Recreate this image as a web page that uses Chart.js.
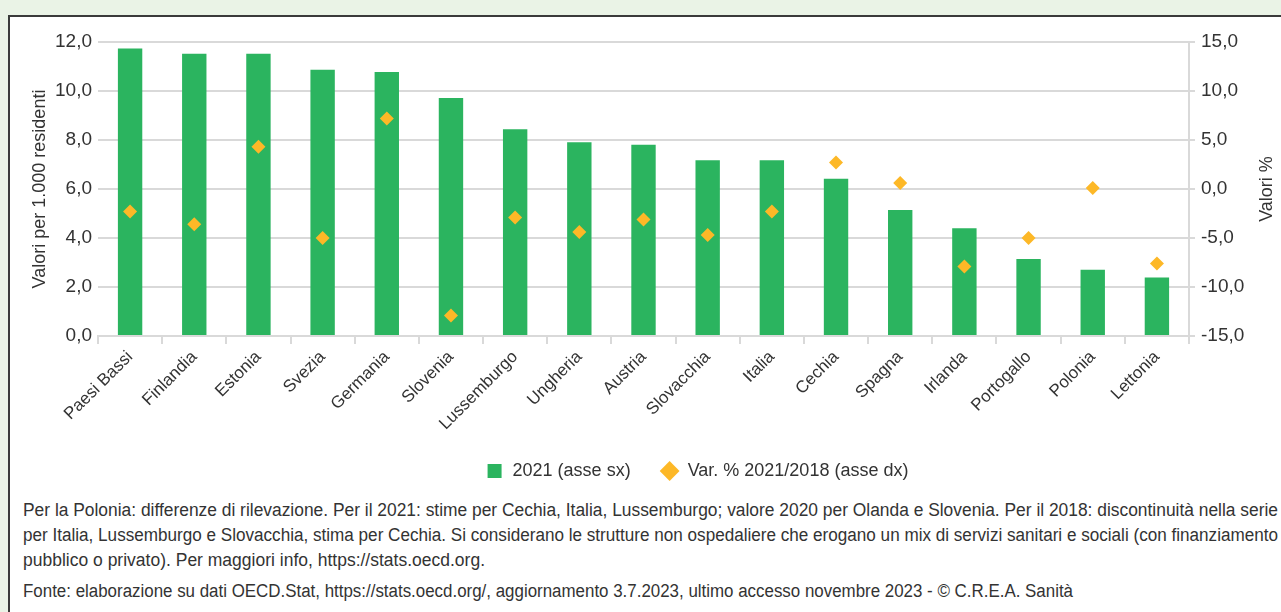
<!DOCTYPE html>
<html lang="it">
<head>
  <meta charset="UTF-8">
  <title>Strutture non ospedaliere</title>
  <script src="https://cdn.jsdelivr.net/npm/chart.js"></script>
  <style>
    * {
      box-sizing: border-box;
      margin: 0;
      padding: 0;
    }

    body {
      background: #eaf3e6;
      width: 1281px;
      height: 612px;
      overflow: hidden;
      font-family: 'Liberation Sans', Arial, sans-serif;
    }

    .box {
      position: absolute;
      left: 8px;
      top: 15px;
      width: 1290px;
      height: 620px;
      background: #fff;
      border: 2px solid #3a3a3a;
    }

    .chart-wrap {
      position: absolute;
      left: 9px;
      top: 17px;
      width: 1272px;
      height: 473px;
    }

    .notes {
      position: absolute;
      left: 23px;
      top: 498px;
      width: 1256px;
      color: #333;
      font-size: 18px;
      line-height: 25px;
    }

    .notes .ln {
      display: inline-block;
      white-space: nowrap;
      transform-origin: 0 50%;
    }

    .notes .src {
      margin-top: 6px;
    }
  </style>
</head>
<body>
  <div class="box"></div>
  <div class="chart-wrap">
    <canvas id="chart"></canvas>
  </div>
  <div class="notes">
    <div><span class="ln">Per la Polonia: differenze di rilevazione. Per il 2021: stime per Cechia, Italia, Lussemburgo; valore 2020 per Olanda e Slovenia. Per il 2018: discontinuità nella serie</span></div>
    <div><span class="ln">per Italia, Lussemburgo e Slovacchia, stima per Cechia. Si considerano le strutture non ospedaliere che erogano un mix di servizi sanitari e sociali (con finanziamento</span></div>
    <div><span class="ln">pubblico o privato). Per maggiori info, https://stats.oecd.org.</span></div>
    <div class="src"><span class="ln">Fonte: elaborazione su dati OECD.Stat, https://stats.oecd.org/, aggiornamento 3.7.2023, ultimo accesso novembre 2023 - © C.R.E.A. Sanità</span></div>
  </div>

  <script>
    const countries = ['Paesi Bassi', 'Finlandia', 'Estonia', 'Svezia', 'Germania', 'Slovenia',
      'Lussemburgo', 'Ungheria', 'Austria', 'Slovacchia', 'Italia', 'Cechia', 'Spagna',
      'Irlanda', 'Portogallo', 'Polonia', 'Lettonia'];
    const values2021 = [11.73, 11.52, 11.52, 10.87, 10.78, 9.71, 8.44, 7.91, 7.81,
      7.17, 7.17, 6.42, 5.14, 4.40, 3.14, 2.70, 2.39];
    const varPct = [-2.3, -3.6, 4.3, -5.0, 7.2, -12.9, -2.9, -4.4, -3.1,
      -4.7, -2.3, 2.7, 0.6, -7.9, -5.0, 0.1, -7.6];

    // the source uses a condensed face: squeeze each note line to its width
    const lineWidths = [1255, 1255, 462, 1050];
    document.querySelectorAll('.notes .ln').forEach((el, i) => {
      const w = el.getBoundingClientRect().width;
      el.style.transform = `scaleX(${lineWidths[i] / w})`;
    });

    const fontFamily = "'Liberation Sans', Arial, sans-serif";
    const gridColor = '#d9d9d9';
    const textColor = '#333';

    const fmt = v => v.toFixed(1).replace('.', ',');

    // right axis title reads bottom-to-top like the left one
    const rightTitle = {
      id: 'rightTitle',
      afterDraw(chart) {
        const s = chart.scales.y1;
        const c = chart.ctx;
        c.save();
        c.translate(s.right - 14, (s.top + s.bottom) / 2);
        c.rotate(-Math.PI / 2);
        c.textAlign = 'center';
        c.textBaseline = 'middle';
        c.fillStyle = textColor;
        c.font = `18px ${fontFamily}`;
        c.fillText('Valori %', 0, 0);
        c.restore();
      }
    };

    // legend in the source sits a bit right of centre
    const legendShift = {
      id: 'legendShift',
      afterLayout(chart) {
        chart.legend.left += 52;
        chart.legend.right += 52;
      }
    };

    const ctx = document.getElementById('chart').getContext('2d');
    new Chart(ctx, {
      data: {
        labels: countries,
        datasets: [
          {
            type: 'line',
            label: 'Var. % 2021/2018 (asse dx)',
            data: varPct,
            yAxisID: 'y1',
            showLine: false,
            pointStyle: 'rectRot',
            pointRadius: 7,
            pointHoverRadius: 7,
            backgroundColor: '#fdb827',
            borderColor: '#fdb827',
            borderWidth: 0,
            order: 0
          },
          {
            type: 'bar',
            label: '2021 (asse sx)',
            data: values2021,
            yAxisID: 'y',
            backgroundColor: '#2bb45f',
            borderColor: '#2bb45f',
            borderWidth: 0,
            categoryPercentage: 1,
            barPercentage: 0.38,
            pointStyle: 'rect',
            order: 1
          }
        ]
      },
      plugins: [rightTitle, legendShift],
      options: {
        responsive: true,
        maintainAspectRatio: false,
        animation: false,
        layout: {
          padding: { top: 25, bottom: 0 }
        },
        plugins: {
          tooltip: { enabled: false },
          legend: {
            position: 'bottom',
            reverse: true,
            labels: {
              usePointStyle: true,
              boxHeight: 14,
              padding: 30,
              color: textColor,
              font: { family: fontFamily, size: 18 }
            }
          }
        },
        scales: {
          x: {
            grid: {
              offset: true,
              drawOnChartArea: false,
              drawTicks: true,
              tickLength: 8,
              color: gridColor,
              lineWidth: 2
            },
            border: { display: true, color: gridColor, width: 2 },
            ticks: {
              minRotation: 45,
              maxRotation: 45,
              color: textColor,
              font: { family: fontFamily, size: 17 }
            },
            afterFit: s => { s.height = 96; }
          },
          y: {
            position: 'left',
            min: 0,
            max: 12,
            ticks: {
              stepSize: 2,
              padding: 6,
              color: textColor,
              font: { family: fontFamily, size: 19 },
              callback: v => fmt(v)
            },
            grid: { color: gridColor, lineWidth: 2, drawTicks: false },
            border: { display: false },
            title: {
              display: true,
              text: 'Valori per 1.000 residenti',
              color: textColor,
              padding: { top: 20, bottom: 0 },
              font: { family: fontFamily, size: 18 }
            },
            afterFit: s => { s.width = 89; }
          },
          y1: {
            position: 'right',
            min: -15,
            max: 15,
            ticks: {
              stepSize: 5,
              padding: 6,
              color: textColor,
              font: { family: fontFamily, size: 19 },
              callback: v => fmt(v)
            },
            grid: { drawOnChartArea: false, drawTicks: true, tickLength: 6, color: gridColor, lineWidth: 2 },
            border: { display: true, color: gridColor, width: 2 },
            afterFit: s => { s.width = 92; }
          }
        }
      }
    });
  </script>
</body>
</html>
